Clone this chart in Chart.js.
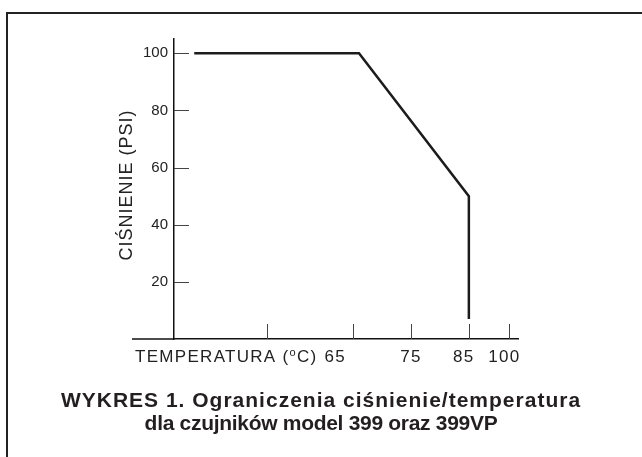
<!DOCTYPE html>
<html>
<head>
<meta charset="utf-8">
<script src="https://cdn.jsdelivr.net/npm/chart.js@4.4.1/dist/chart.umd.min.js"></script>
<style>
  html, body { margin: 0; padding: 0; background: #fff; }
  canvas { display: block; }
</style>
</head>
<body>
<canvas id="wykres" width="642" height="457"></canvas>
<script>
// Dane
const temperatura = [37.5, 66, 85, 85];
const cisnienie = [100, 100, 50, 7];

const yTicks = [20, 40, 60, 80, 100];
const xTicks = [50, 65, 75, 85, 92];
const xTickLabels = ['', '65', '75', '85', '100'];
const xLabelNudge = [0, -18, 0, -5, -5];

const yTitle = 'CIŚNIENIE (PSI)';
const xTitle = 'TEMPERATURA (';
const xTitleEnd = 'C)';
const caption = [
    'WYKRES 1. Ograniczenia ciśnienie/temperatura',
    'dla czujników model 399 oraz 399VP'
];
const captionSpacing = ['1px', '-0.3px'];

const FONT = "'Liberation Sans', Arial, Helvetica, sans-serif";
Chart.defaults.font.family = FONT;

// ramka, kreski podziałki skierowane do środka, podpisy osi i podpis rysunku
const dekoracje = {
    id: 'dekoracje',
    afterDraw(chart) {
        const c = chart.ctx;
        const xs = chart.scales.x;
        const ys = chart.scales.y;
        const area = chart.chartArea;
        c.save();

        c.strokeStyle = '#222';
        c.lineWidth = 2;
        c.beginPath();
        c.moveTo(7, 460);
        c.lineTo(7, 13);
        c.lineTo(645, 13);
        c.stroke();

        // przedłużenie osi X w lewo
        c.strokeStyle = '#111';
        c.lineWidth = 1.5;
        c.beginPath();
        c.moveTo(132, area.bottom);
        c.lineTo(area.left, area.bottom);
        c.stroke();

        c.lineWidth = 1;
        c.strokeStyle = '#444';
        yTicks.forEach(v => {
            const py = Math.round(ys.getPixelForValue(v)) + 0.5;
            c.beginPath();
            c.moveTo(area.left, py);
            c.lineTo(area.left + 15, py);
            c.stroke();
        });
        xTicks.forEach(v => {
            const px = Math.round(xs.getPixelForValue(v)) + 0.5;
            c.beginPath();
            c.moveTo(px, area.bottom);
            c.lineTo(px, area.bottom - 15);
            c.stroke();
        });

        c.fillStyle = '#222';

        // tytuł osi Y
        c.save();
        c.translate(127, 185);
        c.rotate(-Math.PI / 2);
        c.font = '18px ' + FONT;
        c.letterSpacing = '1px';
        c.textAlign = 'center';
        c.textBaseline = 'middle';
        c.fillText(yTitle, 0, 0);
        c.restore();

        c.font = '17px ' + FONT;
        c.letterSpacing = '1.3px';
        c.textBaseline = 'alphabetic';
        c.textAlign = 'left';
        const base = area.bottom + 23;
        let tx = 135;
        c.fillText(xTitle, tx, base);
        tx += c.measureText(xTitle).width;
        c.font = '11px ' + FONT;
        c.fillText('o', tx, base - 6);
        tx += c.measureText('o').width;
        c.font = '17px ' + FONT;
        c.fillText(xTitleEnd, tx, base);

        c.textAlign = 'center';
        xTicks.forEach((v, i) => {
            if (!xTickLabels[i]) return;
            c.fillText(xTickLabels[i], xs.getPixelForValue(v) + xLabelNudge[i], base);
        });

        c.font = 'bold 21px ' + FONT;
        c.fillStyle = '#231f20';
        caption.forEach((line, i) => {
            c.letterSpacing = captionSpacing[i];
            c.fillText(line, 321, 407 + i * 23);
        });
        c.restore();
    }
};

new Chart(document.getElementById('wykres').getContext('2d'), {
    type: 'line',
    data: {
        datasets: [{
            data: temperatura.map((t, i) => ({ x: t, y: cisnienie[i] })),
            borderColor: '#1c1c1c',
            borderWidth: 2.5,
            pointRadius: 0,
            tension: 0,
            fill: false
        }]
    },
    options: {
        responsive: false,
        animation: false,
        layout: { padding: { left: 114, top: 39, right: 124, bottom: 118 } },
        plugins: {
            legend: { display: false },
            tooltip: { enabled: false }
        },
        scales: {
            x: {
                type: 'linear',
                min: 34,
                max: 93.5,
                grid: { display: false, drawTicks: false },
                border: { display: true, color: '#111', width: 1.5 },
                ticks: { display: false },
                afterFit: s => { s.height = 0; }
            },
            y: {
                min: 0,
                max: 105,
                afterBuildTicks: s => { s.ticks = yTicks.map(v => ({ value: v })); },
                grid: { display: false, drawTicks: false },
                border: { display: true, color: '#111', width: 1.5 },
                ticks: {
                    font: { size: 15 },
                    color: '#222',
                    padding: 6
                },
                title: { display: false },
                afterFit: s => { s.width = 60; }
            }
        }
    },
    plugins: [dekoracje]
});
</script>
</body>
</html>
